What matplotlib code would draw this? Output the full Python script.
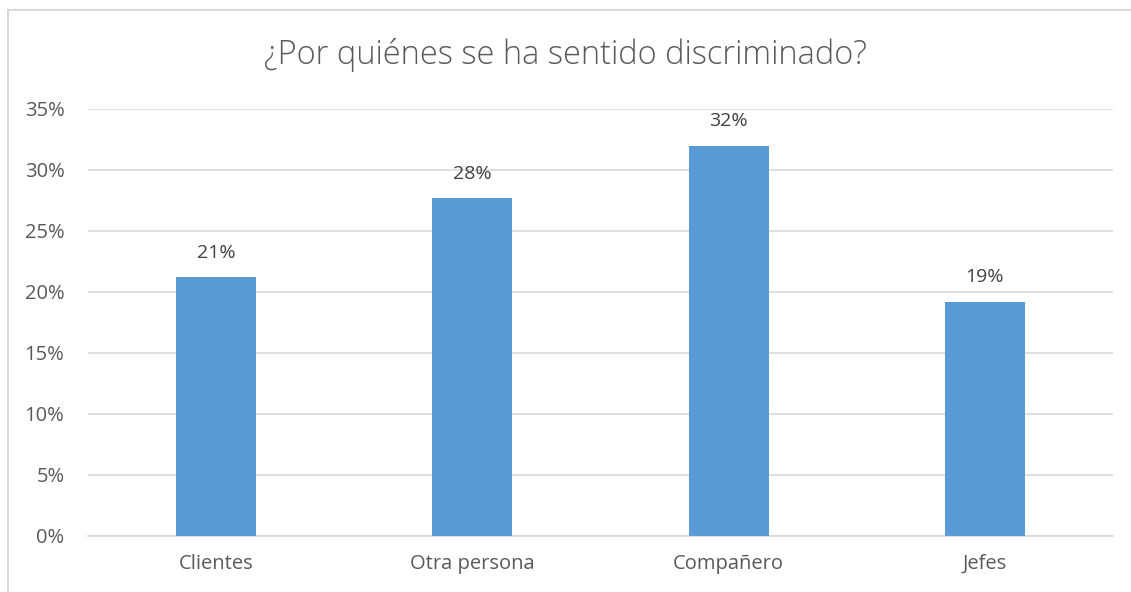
import matplotlib
matplotlib.use("Agg")
import matplotlib.pyplot as plt
from matplotlib.patches import Rectangle
from matplotlib.ticker import FuncFormatter

# Datos del gráfico
categorias = ["Clientes", "Otra persona", "Compañero", "Jefes"]
valores = [0.212, 0.277, 0.32, 0.192]
etiquetas = ["21%", "28%", "32%", "19%"]
titulo = "¿Por quiénes se ha sentido discriminado?"

plt.rcParams['font.family'] = ['Open Sans', 'DejaVu Sans']
gris = "#595959"

fig = plt.figure(figsize=(11.31, 5.92), dpi=100)
ax = fig.add_axes([0.0778, 0.0946, 0.9062, 0.7213])

# borde del área del gráfico
fig.patches.append(Rectangle((8 / 1131, -0.1), 1.2, 1.1 - 10 / 592,
                             transform=fig.transFigure, fill=False,
                             edgecolor="#d9d9d9", linewidth=1.5))

x = range(len(categorias))
barras = ax.bar(x, valores, width=0.312, color="#5b9bd5", zorder=3)
for b, et in zip(barras, etiquetas):
    ax.annotate(et, (b.get_x() + b.get_width() / 2, b.get_height()),
                xytext=(0, 11), textcoords="offset points",
                ha="center", va="bottom", fontsize=14, color="#404040")

ax.set_xlim(-0.5, len(categorias) - 0.5)
ax.set_ylim(0, 0.35)
ax.set_yticks([i * 0.05 for i in range(8)])
ax.yaxis.set_major_formatter(FuncFormatter(lambda v, p: f"{round(v * 100)}%"))
ax.set_xticks(list(x))
ax.set_xticklabels(categorias)
ax.tick_params(axis="both", length=0, labelsize=14.5, labelcolor=gris)
ax.tick_params(axis="y", pad=17)
ax.tick_params(axis="x", pad=13)
ax.grid(axis="y", color="#d9d9d9", linewidth=1.2, zorder=0)
for s in ["top", "right", "left"]:
    ax.spines[s].set_visible(False)
ax.spines["bottom"].set_color("#d9d9d9")
ax.spines["bottom"].set_linewidth(1.2)

fig.text(0.5, 1 - 55 / 592, titulo, ha="center", va="center",
         fontsize=23.5, color=gris, fontweight="light")

fig.savefig("out.png", dpi=100, facecolor="white")
